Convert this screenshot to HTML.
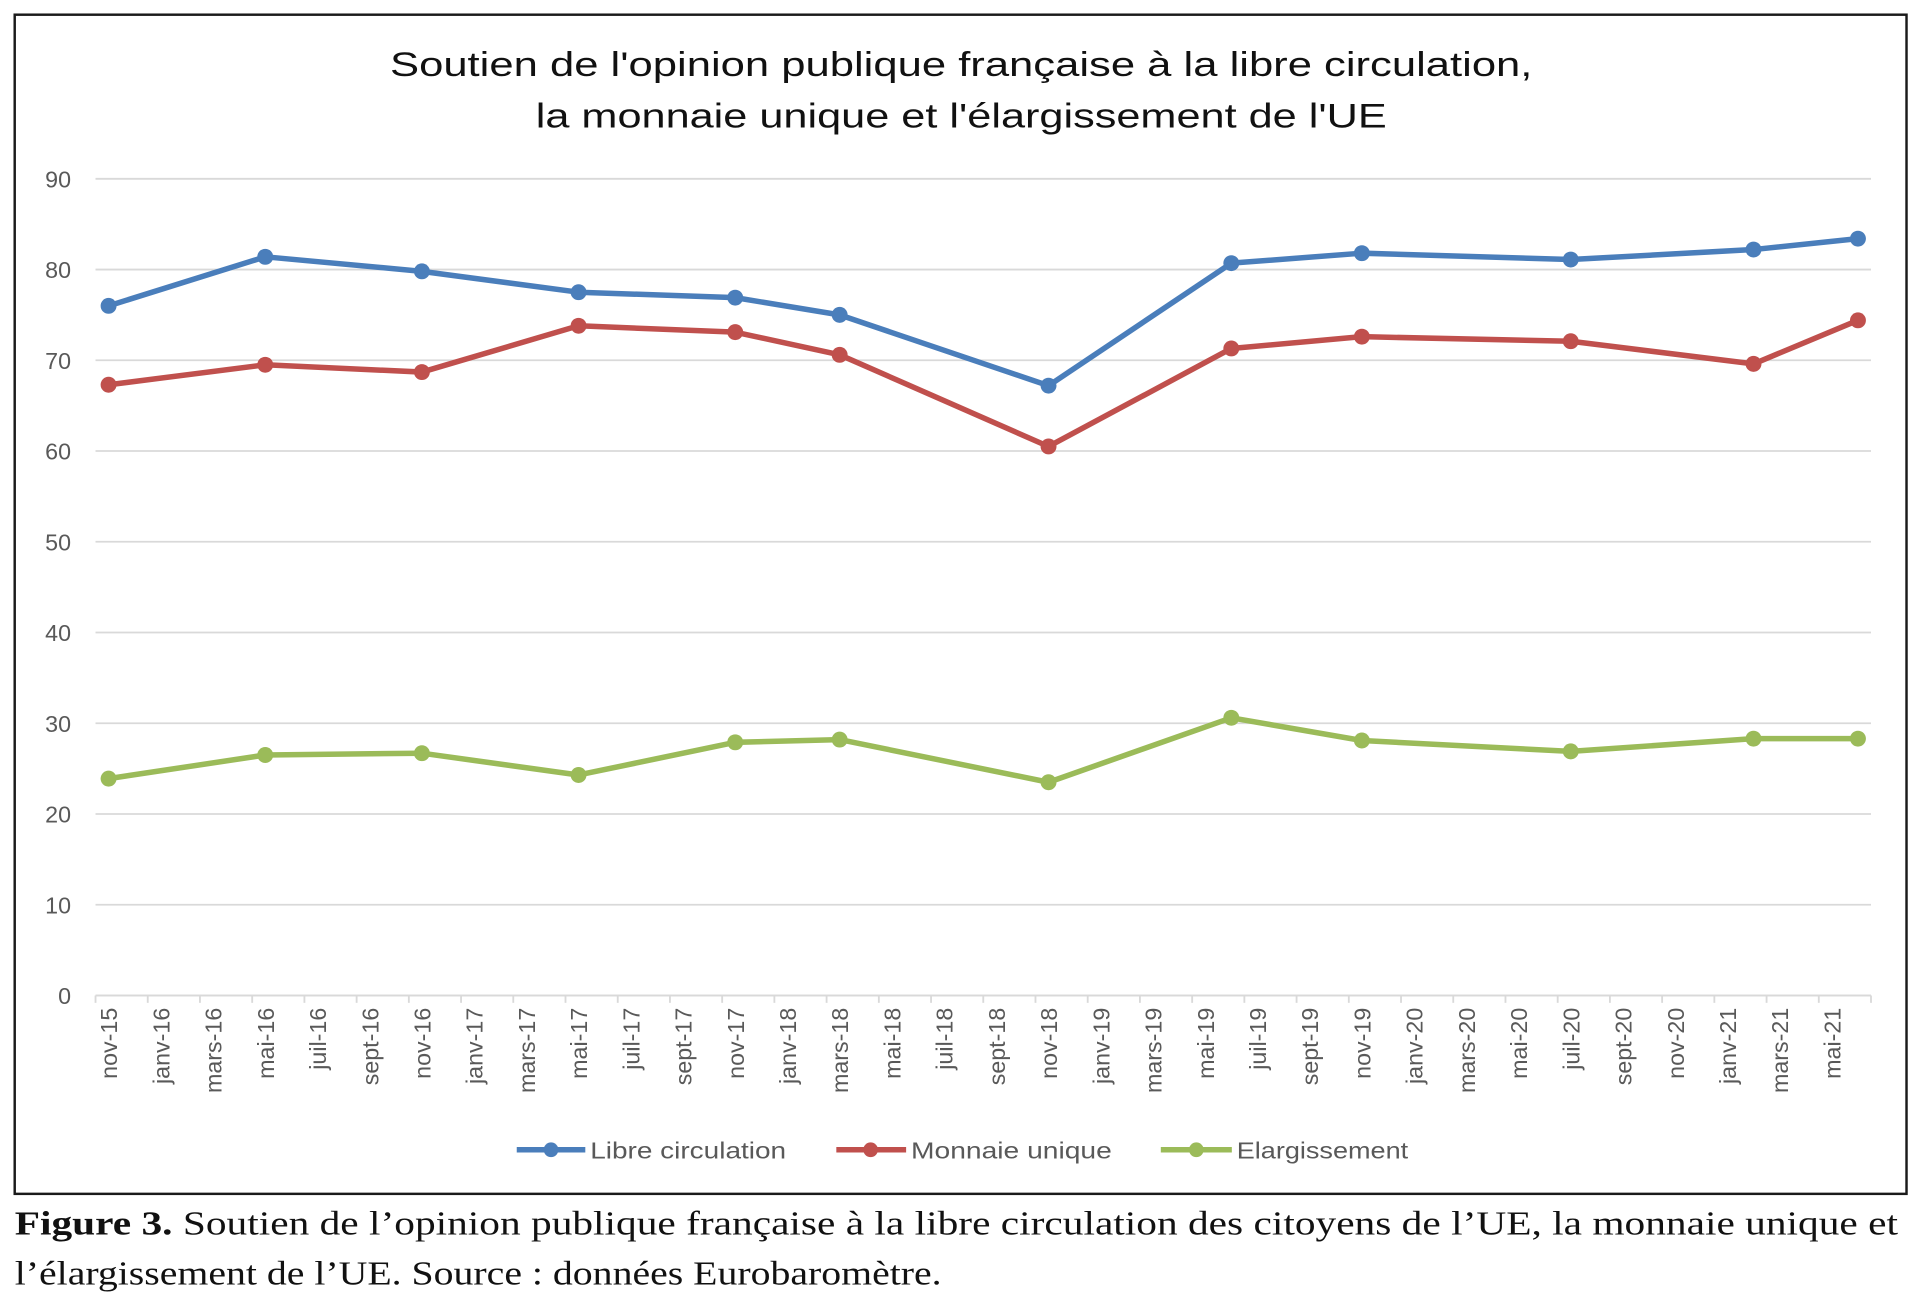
<!DOCTYPE html>
<html><head><meta charset="utf-8">
<style>
html,body{margin:0;padding:0;background:#fff;}
svg{display:block;}
</style></head>
<body>
<svg id="chart" width="1920" height="1313" viewBox="0 0 1568 1072.3" xmlns="http://www.w3.org/2000/svg">
<rect x="12" y="12" width="1545" height="963" fill="#fff" stroke="#1a1a1a" stroke-width="2"/>
<text x="785" y="62" text-anchor="middle" font-family="'Liberation Sans',sans-serif" font-size="28" fill="#111" textLength="933" lengthAdjust="spacingAndGlyphs">Soutien de l'opinion publique française à la libre circulation,</text>
<text x="785" y="104" text-anchor="middle" font-family="'Liberation Sans',sans-serif" font-size="28" fill="#111" textLength="695" lengthAdjust="spacingAndGlyphs">la monnaie unique et l'élargissement de l'UE</text>
<g id="grid"></g>
<g id="xaxis"></g>
<g id="series"></g>
<g id="legend">
  <line x1="422" y1="939" x2="478" y2="939" stroke="#4a7ebb" stroke-width="4.5"/>
  <circle cx="450" cy="939" r="6" fill="#4a7ebb"/>
  <text x="482" y="946" font-family="'Liberation Sans',sans-serif" font-size="19" fill="#595959" textLength="160" lengthAdjust="spacingAndGlyphs">Libre circulation</text>
  <line x1="683" y1="939" x2="740" y2="939" stroke="#c0504d" stroke-width="4.5"/>
  <circle cx="711" cy="939" r="6" fill="#c0504d"/>
  <text x="744" y="946" font-family="'Liberation Sans',sans-serif" font-size="19" fill="#595959" textLength="164" lengthAdjust="spacingAndGlyphs">Monnaie unique</text>
  <line x1="948" y1="939" x2="1006" y2="939" stroke="#9bbb59" stroke-width="4.5"/>
  <circle cx="977" cy="939" r="6" fill="#9bbb59"/>
  <text x="1010" y="946" font-family="'Liberation Sans',sans-serif" font-size="19" fill="#595959" textLength="140" lengthAdjust="spacingAndGlyphs">Elargissement</text>
</g>
<text x="12" y="1008" font-family="'Liberation Serif',serif" font-size="28" fill="#111" textLength="1538" lengthAdjust="spacingAndGlyphs"><tspan font-weight="bold">Figure 3.</tspan> Soutien de l’opinion publique française à la libre circulation des citoyens de l’UE, la monnaie unique et</text>
<text x="12" y="1049" font-family="'Liberation Serif',serif" font-size="28" fill="#111" textLength="757" lengthAdjust="spacingAndGlyphs">l’élargissement de l’UE. Source : données Eurobaromètre.</text>
</svg>
<script>
// Data
const monthIndex = [0, 6, 12, 18, 24, 28, 36, 43, 48, 56, 63, 67]; // months since nov-15
const libreCirculation = [76.0, 81.4, 79.8, 77.5, 76.9, 75.0, 67.2, 80.7, 81.8, 81.1, 82.2, 83.4];
const monnaieUnique = [67.3, 69.5, 68.7, 73.8, 73.1, 70.6, 60.5, 71.3, 72.6, 72.1, 69.6, 74.4];
const elargissement = [23.9, 26.5, 26.7, 24.3, 27.9, 28.2, 23.5, 30.6, 28.1, 26.9, 28.3, 28.3];
const yTicks = [0, 10, 20, 30, 40, 50, 60, 70, 80, 90];
const xLabels = ["nov-15","janv-16","mars-16","mai-16","juil-16","sept-16","nov-16","janv-17","mars-17","mai-17","juil-17","sept-17","nov-17","janv-18","mars-18","mai-18","juil-18","sept-18","nov-18","janv-19","mars-19","mai-19","juil-19","sept-19","nov-19","janv-20","mars-20","mai-20","juil-20","sept-20","nov-20","janv-21","mars-21","mai-21"];

const NS = "http://www.w3.org/2000/svg";
const X0 = 78, X1 = 1528, Y0 = 813, Y90 = 146;
const totalMonths = 68;
const mw = (X1 - X0) / totalMonths;
function xScale(m){ return X0 + (m + 0.5) * mw; }
function yScale(v){ return Y0 - v * (Y0 - Y90) / 90; }
function mk(tag, attrs, parent){ const e = document.createElementNS(NS, tag); for (const k in attrs) e.setAttribute(k, attrs[k]); parent.appendChild(e); return e; }

const grid = document.getElementById('grid');
yTicks.forEach(v => {
  const l = mk('line', {x1: X0, x2: X1, y1: yScale(v), y2: yScale(v), stroke: '#d9d9d9', 'stroke-width': 1.5}, grid);
  
  
  const t = mk('text', {x: 58, y: yScale(v) + 7, 'text-anchor': 'end', 'font-family': "'Liberation Sans',sans-serif", 'font-size': 19, fill: '#595959'}, grid);
  t.textContent = v;
  
  
});

const xa = document.getElementById('xaxis');
const ax = mk('line', {x1: X0, x2: X1, y1: Y0, y2: Y0, stroke: '#d9d9d9', 'stroke-width': 1.5}, xa);


for (let k = 0; k <= xLabels.length; k++) {
  const tx = X0 + 2 * k * mw;
  const tk = mk('line', {x1: tx, x2: tx, y1: Y0, y2: Y0 + 6, stroke: '#d9d9d9', 'stroke-width': 1.5}, xa);
  
  
}
xLabels.forEach((lab, k) => {
  const cx = xScale(2 * k) + 7;
  const t = mk('text', {x: 0, y: 0, transform: `translate(${cx},823) rotate(-90)`, 'text-anchor': 'end', 'font-family': "'Liberation Sans',sans-serif", 'font-size': 19, fill: '#595959'}, xa);
  t.textContent = lab;
  
  
});

const ser = document.getElementById('series');
[[libreCirculation, '#4a7ebb', 'libre-circulation'], [monnaieUnique, '#c0504d', 'monnaie-unique'], [elargissement, '#9bbb59', 'elargissement']].forEach(([vals, col, name]) => {
  const pts = vals.map((v, i) => xScale(monthIndex[i]) + ',' + yScale(v)).join(' ');
  const pl = mk('polyline', {points: pts, fill: 'none', stroke: col, 'stroke-width': 4.5, 'stroke-linejoin': 'round'}, ser);
  
  
  vals.forEach((v, i) => {
    const c = mk('circle', {cx: xScale(monthIndex[i]), cy: yScale(v), r: 6.5, fill: col}, ser);
    
    
  });
});
</script>
</body></html>
